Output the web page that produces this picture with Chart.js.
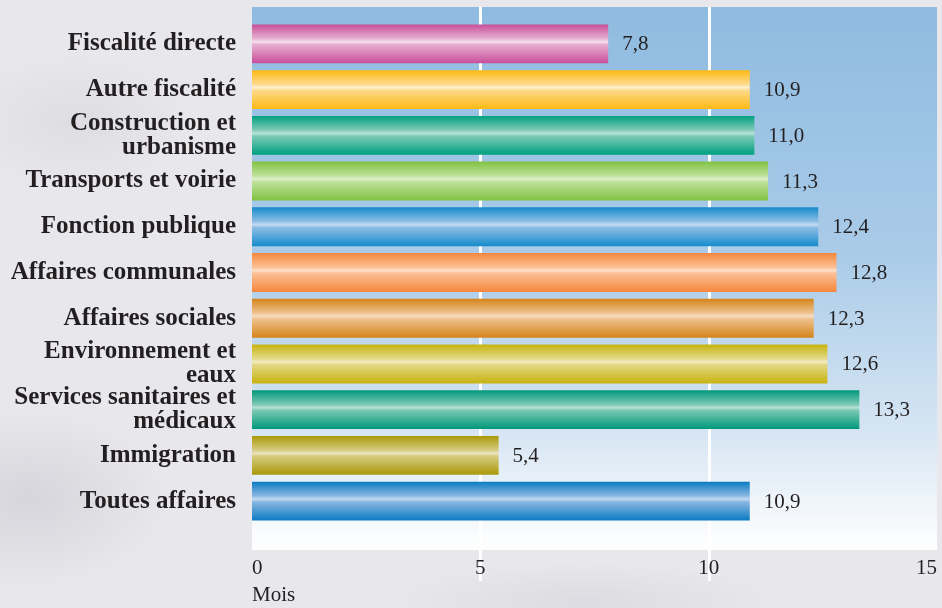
<!DOCTYPE html>
<html>
<head>
<meta charset="utf-8">
<script src="https://cdn.jsdelivr.net/npm/chart.js@4"></script>
<style>
    html, body { margin: 0; padding: 0; }
    body {
        width: 942px;
        height: 608px;
        overflow: hidden;
        background:
            radial-gradient(ellipse 140px 90px at 3% 82%, rgba(150,150,158,0.22), rgba(150,150,158,0) 100%),
            radial-gradient(ellipse 120px 70px at 8% 20%, rgba(175,175,182,0.18), rgba(175,175,182,0) 100%),
            radial-gradient(ellipse 200px 40px at 62% 99%, rgba(185,185,192,0.25), rgba(185,185,192,0) 100%),
            #e7e7ec;
    }
    #wrap { position: absolute; left: 0; top: 0; width: 942px; height: 608px; }
</style>
</head>
<body>
<div id="wrap"><canvas id="chart"></canvas></div>
<script>
    var categories = [
        'Fiscalité directe',
        'Autre fiscalité',
        ['Construction et', 'urbanisme'],
        'Transports et voirie',
        'Fonction publique',
        'Affaires communales',
        'Affaires sociales',
        ['Environnement et', 'eaux'],
        ['Services sanitaires et', 'médicaux'],
        'Immigration',
        'Toutes affaires'
    ];
    var months = [7.8, 10.9, 11.0, 11.3, 12.4, 12.8, 12.3, 12.6, 13.3, 5.4, 10.9];
    var xTicks = [0, 5, 10, 15];
    var xTitle = 'Mois';

    // edge / light / highlight colour for each cylinder-like bar
    var barStyles = [
        ['#c84f9a', '#e6aed0', '#f6e0ee'],
        ['#fdb913', '#fdd98a', '#fff0cf'],
        ['#00a07f', '#7ccab6', '#b9e4d8'],
        ['#80c241', '#bfe09b', '#dff0cc'],
        ['#168ccb', '#8dbde5', '#c5dcf2'],
        ['#f5873e', '#fcbf94', '#fde0c9'],
        ['#d5841b', '#eec18c', '#f7dfc2'],
        ['#c7b30f', '#e3d985', '#f2ecc0'],
        ['#00987a', '#79c8b3', '#b6e2d6'],
        ['#a99808', '#d6cb80', '#ebe4bd'],
        ['#0a7bc2', '#88b6e2', '#c3d9f1']
    ];

    var BAR_PCT = 0.85;
    var SERIF = '"Liberation Serif", serif';

    function barGradient(c) {
        var chart = c.chart;
        var style = barStyles[c.dataIndex] || barStyles[0];
        var yScale = chart.scales.y;
        if (!chart.chartArea || !yScale) {
            return style[0];
        }
        var center = yScale.getPixelForValue(c.dataIndex);
        var half = (yScale.height / categories.length) * BAR_PCT / 2;
        var g = chart.ctx.createLinearGradient(0, center - half, 0, center + half);
        g.addColorStop(0, style[0]);
        g.addColorStop(0.36, style[1]);
        g.addColorStop(0.45, style[2]);
        g.addColorStop(0.52, style[1]);
        g.addColorStop(1, style[0]);
        return g;
    }

    var panelPlugin = {
        id: 'panel',
        beforeDraw: function (chart) {
            var ctx = chart.ctx;
            var a = chart.chartArea;
            var top = a.top - 14;
            var bottom = a.bottom + 26;
            ctx.save();
            var g = ctx.createLinearGradient(0, top, 0, bottom);
            g.addColorStop(0, '#8fbbe0');
            g.addColorStop(0.45, '#a9cbe8');
            g.addColorStop(0.78, '#d6e5f3');
            g.addColorStop(1, '#ffffff');
            ctx.fillStyle = g;
            ctx.fillRect(a.left, top, a.right - a.left, bottom - top);

            // white grid lines run past the panel down to the tick labels
            ctx.strokeStyle = '#ffffff';
            ctx.lineWidth = 3;
            var xs = chart.scales.x;
            xTicks.forEach(function (v) {
                if (v === xTicks[0] || v === xTicks[xTicks.length - 1]) {
                    return;
                }
                var px = Math.round(xs.getPixelForValue(v)) + 0.5;
                ctx.beginPath();
                ctx.moveTo(px, top);
                ctx.lineTo(px, a.bottom + 57);
                ctx.stroke();
            });
            ctx.restore();
        }
    };

    var valueLabels = {
        id: 'valueLabels',
        afterDatasetsDraw: function (chart) {
            var ctx = chart.ctx;
            var meta = chart.getDatasetMeta(0);
            ctx.save();
            ctx.font = '21px ' + SERIF;
            ctx.fillStyle = '#231f20';
            ctx.textAlign = 'left';
            ctx.textBaseline = 'middle';
            meta.data.forEach(function (bar, i) {
                ctx.fillText(months[i].toFixed(1).replace('.', ','), bar.x + 14, bar.y + 1);
            });
            ctx.restore();
        }
    };

    new Chart(document.getElementById('chart'), {
        type: 'bar',
        data: {
            labels: categories,
            datasets: [{
                data: months,
                backgroundColor: barGradient,
                borderWidth: 0,
                barPercentage: BAR_PCT,
                categoryPercentage: 1
            }]
        },
        options: {
            indexAxis: 'y',
            responsive: true,
            maintainAspectRatio: false,
            animation: false,
            layout: { padding: { top: 21, right: 5, left: 0, bottom: 0 } },
            plugins: {
                legend: { display: false },
                tooltip: { enabled: false }
            },
            scales: {
                x: {
                    min: 0,
                    max: 15,
                    afterBuildTicks: function (scale) {
                        scale.ticks = xTicks.map(function (v) { return { value: v }; });
                    },
                    afterFit: function (scale) {
                        scale.height = 84;
                        scale.paddingLeft = 0;
                        scale.paddingRight = 0;
                    },
                    grid: { display: false, drawTicks: false },
                    border: { display: false },
                    ticks: {
                        align: 'inner',
                        padding: 32,
                        color: '#231f20',
                        font: { family: SERIF, size: 21 }
                    },
                    title: {
                        display: true,
                        text: xTitle,
                        align: 'start',
                        color: '#231f20',
                        padding: { top: 0, bottom: 0 },
                        font: { family: SERIF, size: 21 }
                    }
                },
                y: {
                    afterFit: function (scale) {
                        scale.width = 252;
                        scale.paddingTop = 0;
                        scale.paddingBottom = 0;
                    },
                    grid: { display: false, drawTicks: false },
                    border: { display: false },
                    ticks: {
                        autoSkip: false,
                        padding: 16,
                        color: '#231f20',
                        font: { family: SERIF, size: 25, weight: 'bold', lineHeight: 0.96 }
                    }
                }
            }
        },
        plugins: [panelPlugin, valueLabels]
    });
</script>
</body>
</html>
